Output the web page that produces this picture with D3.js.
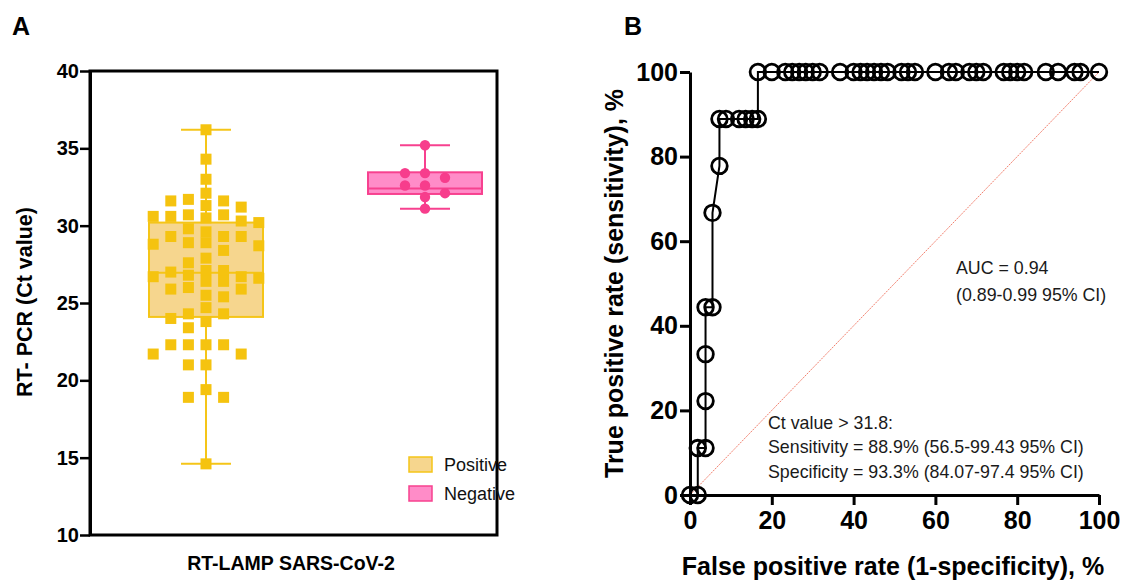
<!DOCTYPE html>
<html lang="en">
<head>
<meta charset="utf-8">
<style>
  html, body { margin: 0; padding: 0; background: #fff; }
  svg { display: block; font-family: Arial, "Liberation Sans", Helvetica, sans-serif; }
  .tick text { font-weight: bold; fill: #000; }
</style>
</head>
<body>
<script src="https://cdn.jsdelivr.net/npm/d3@7"></script>
<script>
// ---- panel A data: RT-PCR Ct values by RT-LAMP result ----
var groups = ['Positive', 'Negative'];
var positiveCt = [
  30.2, 29.3, 26.7, 22.3,
  32.1, 31.3, 30.6, 29.6, 28.9, 26.6, 25.9, 24.3, 22.3,
  31.7, 30.6, 29.3, 28.4, 27.6, 27.0, 25.9, 24.0, 21.7, 19.4,
  36.2, 34.3, 33.0, 31.6, 30.7, 28.8, 27.1, 26.4, 25.5, 23.4, 22.3, 18.9, 14.6,
  31.6, 30.7, 28.7, 27.9, 27.1, 26.4, 25.4, 24.7, 23.8, 21.7, 18.9,
  31.2, 30.5, 29.8, 28.9, 26.8, 26.0, 24.3, 22.3,
  30.3, 29.3, 26.7,
  21.0, 21.0
];
var negativeCt = [35.2, 33.4, 33.4, 33.1, 32.6, 32.6, 32.1, 31.85, 31.1];
// min, q1, median, q3, max
var boxStats = [
  [14.6, 24.1, 26.95, 30.2, 36.2],
  [31.1, 32.05, 32.4, 33.45, 35.2]
];
var ctTicks = [10, 15, 20, 25, 30, 35, 40];

// ---- panel B data: ROC curve (%) ----
var rocFpr = [0, 1.9, 1.9, 3.8, 3.8, 3.8, 3.8, 5.5, 5.5, 7.2, 7.2, 8.8, 12, 13.6, 15.2, 16.6,
  16.6, 20, 23.3, 25, 26.7, 28.3, 30, 31.7, 36.7, 40, 41.7, 43.3, 45, 46.7, 48.3,
  51.7, 53.3, 55, 60, 63.3, 65, 68.3, 70, 71.7, 76.7, 78.3, 80, 81.7, 87, 90, 94, 95.5, 100];
var rocTpr = [0, 0, 11.1, 11.1, 22.2, 33.3, 44.4, 44.4, 66.7, 77.8, 88.9, 88.9, 88.9, 88.9, 88.9, 88.9,
  100, 100, 100, 100, 100, 100, 100, 100, 100, 100, 100, 100, 100, 100, 100,
  100, 100, 100, 100, 100, 100, 100, 100, 100, 100, 100, 100, 100, 100, 100, 100, 100, 100];
var rocTicks = [0, 20, 40, 60, 80, 100];

var W = 1140, H = 580;
var svg = d3.select('body').append('svg').attr('width', W).attr('height', H);

// =================== panel A ===================
var A = { left: 90, right: 497, top: 71, bottom: 535 };
var colors = {
  Positive: { fill: '#f6d68e', stroke: '#f5c518', dot: '#f5c30f' },
  Negative: { fill: '#ff8cc8', stroke: '#f7418f', dot: '#f73d8c' }
};

var yA = d3.scaleLinear().domain([10, 40]).range([A.bottom, A.top]);
var xA = d3.scalePoint().domain(groups).range([206, 425]);
var boxHalf = 57, capHalf = 25;

var gA = svg.append('g');

// boxes and whiskers
groups.forEach(function (g, i) {
  var s = boxStats[i], cx = xA(g), c = colors[g];
  var gb = gA.append('g');
  gb.append('line').attr('x1', cx).attr('x2', cx).attr('y1', yA(s[0])).attr('y2', yA(s[4]))
    .attr('stroke', c.stroke).attr('stroke-width', 2);
  [s[0], s[4]].forEach(function (v) {
    gb.append('line').attr('x1', cx - capHalf).attr('x2', cx + capHalf)
      .attr('y1', yA(v)).attr('y2', yA(v)).attr('stroke', c.stroke).attr('stroke-width', 2);
  });
  gb.append('rect').attr('x', cx - boxHalf).attr('width', boxHalf * 2)
    .attr('y', yA(s[3])).attr('height', yA(s[1]) - yA(s[3]))
    .attr('fill', c.fill).attr('stroke', c.stroke).attr('stroke-width', 2);
  gb.append('line').attr('x1', cx - boxHalf).attr('x2', cx + boxHalf)
    .attr('y1', yA(s[2])).attr('y2', yA(s[2])).attr('stroke', c.stroke).attr('stroke-width', 2);
});

// simple column swarm: each point goes to the nearest free column
function swarm(values, minGap) {
  var order = [0, -1, 1, -2, 2, -3, 3, -4, 4];
  var cols = {};
  return values.slice().sort(function (a, b) { return b - a; }).map(function (v) {
    for (var k = 0; k < order.length; k++) {
      var c = order[k], list = cols[c] || [];
      if (list.every(function (u) { return Math.abs(u - v) >= minGap; })) {
        cols[c] = list.concat([v]);
        return { v: v, col: c };
      }
    }
    return { v: v, col: 0 };
  });
}

var posPts = swarm(positiveCt, 0.7);
gA.append('g').selectAll('rect').data(posPts).enter().append('rect')
  .attr('x', function (d) { return xA('Positive') + d.col * 17.6 - 5.5; })
  .attr('y', function (d) { return yA(d.v) - 5.5; })
  .attr('width', 11).attr('height', 11)
  .attr('fill', colors.Positive.dot);

var negPts = swarm(negativeCt, 0.7);
gA.append('g').selectAll('circle').data(negPts).enter().append('circle')
  .attr('cx', function (d) { return xA('Negative') + d.col * 20; })
  .attr('cy', function (d) { return yA(d.v); })
  .attr('r', 5.2)
  .attr('fill', colors.Negative.dot);

// frame
gA.append('rect').attr('x', A.left).attr('y', A.top)
  .attr('width', A.right - A.left).attr('height', A.bottom - A.top)
  .attr('fill', 'none').attr('stroke', '#000').attr('stroke-width', 3);

var axA = gA.append('g').attr('transform', 'translate(' + A.left + ',0)')
  .call(d3.axisLeft(yA).tickValues(ctTicks).tickSize(10).tickSizeOuter(0).tickPadding(1));
axA.select('.domain').attr('stroke-width', 3);
axA.selectAll('.tick line').attr('stroke-width', 2.5);
axA.selectAll('.tick text').style('font-size', '20px');

// legend
groups.forEach(function (g, i) {
  var ly = 457 + i * 29;
  gA.append('rect').attr('x', 409).attr('y', ly).attr('width', 23).attr('height', 15)
    .attr('fill', colors[g].fill).attr('stroke', colors[g].stroke).attr('stroke-width', 1.5);
  gA.append('text').attr('x', 444).attr('y', ly + 14).text(g)
    .style('font-size', '18px').attr('fill', '#111');
});

gA.append('text').attr('transform', 'translate(32,302) rotate(-90)')
  .attr('text-anchor', 'middle').style('font-size', '21.5px').style('font-weight', 'bold')
  .text('RT- PCR (Ct value)');
gA.append('text').attr('x', 291).attr('y', 570).attr('text-anchor', 'middle')
  .style('font-size', '19.5px').style('font-weight', 'bold').text('RT-LAMP SARS-CoV-2');

svg.append('text').attr('x', 12).attr('y', 35).style('font-size', '25px')
  .style('font-weight', 'bold').text('A');

// =================== panel B ===================
var B = { left: 690, right: 1099, top: 72, bottom: 495 };
var xB = d3.scaleLinear().domain([0, 100]).range([B.left, B.right]);
var yB = d3.scaleLinear().domain([0, 100]).range([B.bottom, B.top]);
var gB = svg.append('g');

gB.append('line')
  .attr('x1', xB(0)).attr('y1', yB(0)).attr('x2', xB(100)).attr('y2', yB(100))
  .attr('stroke', '#f2806e').attr('stroke-width', 1).attr('stroke-dasharray', '2,1');

var axBx = gB.append('g').attr('transform', 'translate(0,' + B.bottom + ')')
  .call(d3.axisBottom(xB).tickValues(rocTicks).tickSize(10).tickSizeOuter(0).tickPadding(6));
var axBy = gB.append('g').attr('transform', 'translate(' + B.left + ',0)')
  .call(d3.axisLeft(yB).tickValues(rocTicks).tickSize(10).tickSizeOuter(0).tickPadding(2));
[axBx, axBy].forEach(function (ax) {
  ax.select('.domain').attr('stroke-width', 3);
  ax.selectAll('.tick line').attr('stroke-width', 3);
  ax.selectAll('.tick text').style('font-size', '25px');
});

var roc = rocFpr.map(function (f, i) { return [f, rocTpr[i]]; });
gB.append('path').datum(roc)
  .attr('d', d3.line().x(function (d) { return xB(d[0]); }).y(function (d) { return yB(d[1]); }))
  .attr('fill', 'none').attr('stroke', '#000').attr('stroke-width', 2);
gB.append('g').selectAll('circle').data(roc).enter().append('circle')
  .attr('cx', function (d) { return xB(d[0]); })
  .attr('cy', function (d) { return yB(d[1]); })
  .attr('r', 7.8).attr('fill', 'none').attr('stroke', '#000').attr('stroke-width', 2.8);

var note = gB.append('g').style('font-size', '17.8px').attr('fill', '#1a1a1a');
note.append('text').attr('x', 956).attr('y', 274).text('AUC = 0.94');
note.append('text').attr('x', 956).attr('y', 301).text('(0.89-0.99 95% CI)');
note.append('text').attr('x', 768).attr('y', 429).text('Ct value > 31.8:');
note.append('text').attr('x', 768).attr('y', 453).text('Sensitivity = 88.9% (56.5-99.43 95% CI)');
note.append('text').attr('x', 768).attr('y', 478).text('Specificity = 93.3% (84.07-97.4 95% CI)');

gB.append('text').attr('x', 893).attr('y', 575).attr('text-anchor', 'middle')
  .style('font-size', '25px').style('font-weight', 'bold').text('False positive rate (1-specificity), %');
gB.append('text').attr('transform', 'translate(623,' + ((B.top + B.bottom) / 2) + ') rotate(-90)')
  .attr('text-anchor', 'middle').style('font-size', '25px').style('font-weight', 'bold')
  .text('True positive rate (sensitivity), %');

svg.append('text').attr('x', 624).attr('y', 35).style('font-size', '25px')
  .style('font-weight', 'bold').text('B');
</script>
</body>
</html>
